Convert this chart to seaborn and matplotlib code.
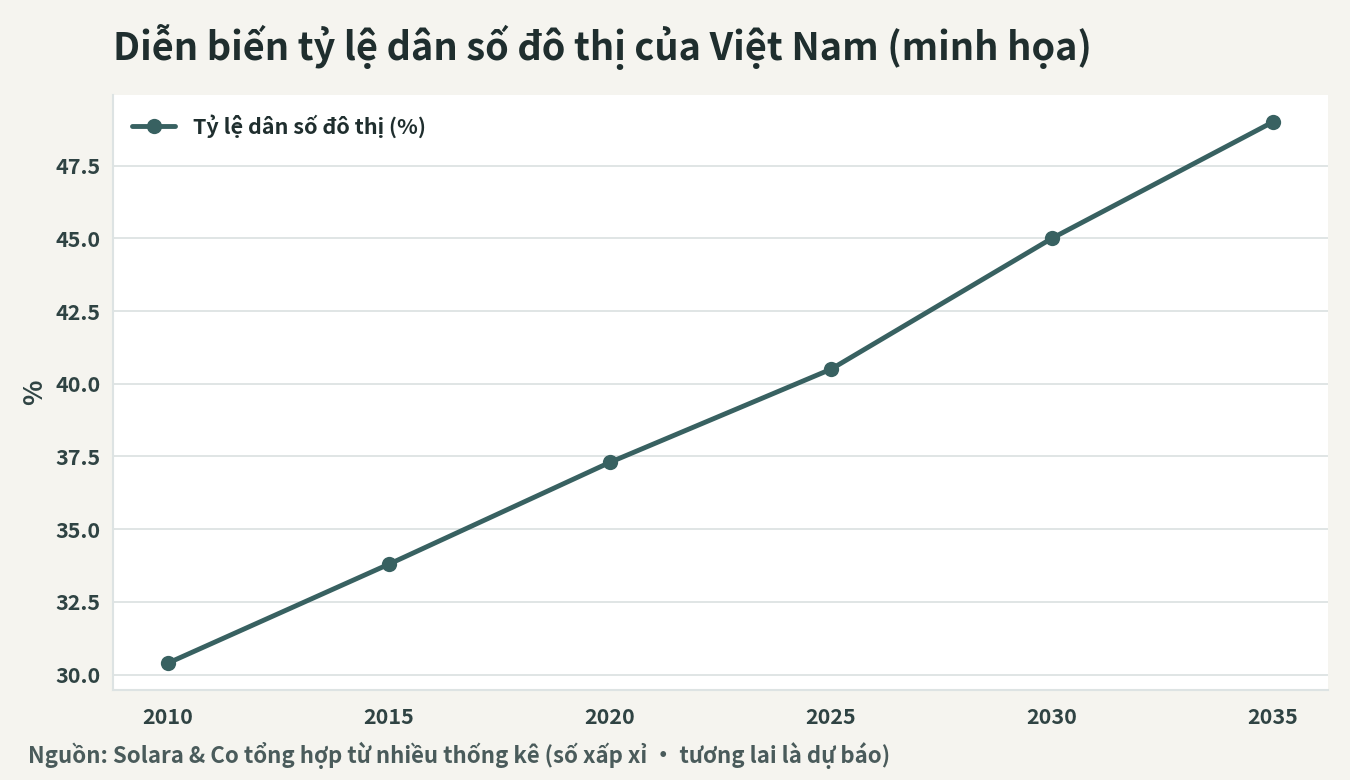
import matplotlib
matplotlib.use('Agg')
import matplotlib.pyplot as plt
import pandas as pd
import seaborn as sns

# data
years = [2010, 2015, 2020, 2025, 2030, 2035]
urban_share = [30.4, 33.8, 37.3, 40.5, 45.0, 49.0]
series_label = 'Tỷ lệ dân số đô thị (%)'

title = 'Diễn biến tỷ lệ dân số đô thị của Việt Nam (minh họa)'
source_note = 'Nguồn: Solara & Co tổng hợp từ nhiều thống kê (số xấp xỉ · tương lai là dự báo)'

BG = '#f5f4ef'
LINE = '#386161'
TEXT = '#1f2e2e'
TICK = '#2f4343'
GRID = '#dde3e3'

sns.set_theme(style='whitegrid')
plt.rcParams['font.family'] = ['Noto Sans CJK SC', 'DejaVu Sans']
plt.rcParams['font.weight'] = 'bold'

df = pd.DataFrame({'year': years, 'value': urban_share})

fig = plt.figure(figsize=(13.5, 7.8), dpi=100, facecolor=BG)
ax = fig.add_axes([113 / 1350, 1 - 690 / 780, (1328 - 113) / 1350, (690 - 95) / 780])
ax.set_facecolor('white')

sns.lineplot(data=df, x='year', y='value', ax=ax, color=LINE, linewidth=3.5,
             marker='o', markersize=11, markeredgewidth=0, label=series_label)

ax.set_xticks(years)
ax.set_yticks([30.0, 32.5, 35.0, 37.5, 40.0, 42.5, 45.0, 47.5])
ax.set_yticklabels([f'{v:.1f}' for v in ax.get_yticks()])
ax.grid(axis='y', color=GRID, linewidth=1.3)
ax.grid(axis='x', visible=False)

for side in ['top', 'right']:
    ax.spines[side].set_visible(False)
for side in ['left', 'bottom']:
    ax.spines[side].set_color(GRID)
    ax.spines[side].set_linewidth(1.5)

ax.tick_params(axis='both', which='both', length=4, width=1, color=TICK,
               labelsize=15.5, labelcolor=TICK, pad=5)
ax.tick_params(axis='x', pad=8)
for lbl in ax.get_xticklabels() + ax.get_yticklabels():
    lbl.set_fontweight('bold')

ax.set_xlabel('')
ax.set_ylabel('%', fontsize=19, color=TICK, fontweight='bold', labelpad=5)

leg = ax.legend(loc='upper left', frameon=False, fontsize=15.5, handlelength=2.0,
                borderaxespad=0.5)
for t in leg.get_texts():
    t.set_color(TEXT)
    t.set_fontweight('bold')

fig.text(113 / 1350, 1 - 47 / 780, title, fontsize=27.3, fontweight='bold',
         color=TEXT, va='center', ha='left')
fig.text(28 / 1350, 1 - 755 / 780, source_note, fontsize=16, fontweight='bold',
         color='#4a5b5b', va='center', ha='left')

fig.savefig('out.png', dpi=100, facecolor=BG)
